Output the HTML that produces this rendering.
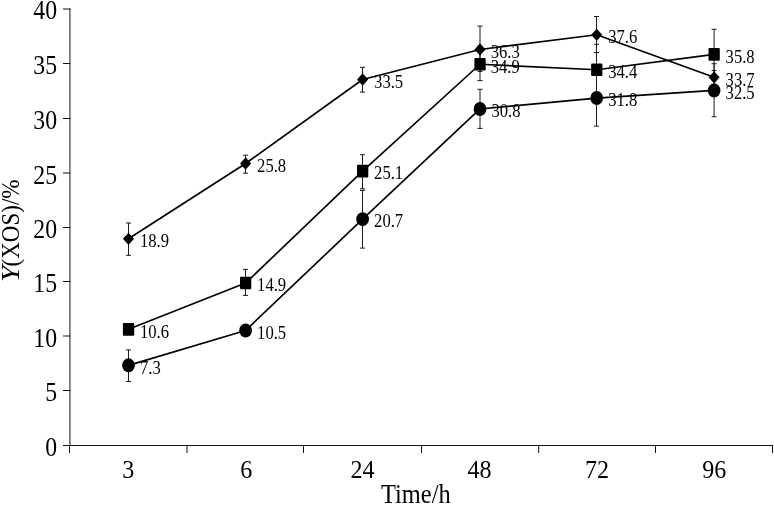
<!DOCTYPE html>
<html><head><meta charset="utf-8"><title>chart</title>
<style>
html,body{margin:0;padding:0;background:#fff;}
body{width:774px;height:505px;overflow:hidden;}
svg{display:block;will-change:transform;opacity:0.999;font-family:"Liberation Serif",serif;fill:#000;}
.ax{font-size:27px;}
.lb{font-size:19px;}
.tt{font-size:27px;}
</style></head><body>
<svg width="774" height="505" viewBox="0 0 774 505">
<rect width="774" height="505" fill="#fff"/>
<g stroke="#111" stroke-width="1" fill="none">
<line x1="69.95" y1="8.5" x2="69.95" y2="445"/>
<line x1="63" y1="445.5" x2="773" y2="445.5"/>
<line x1="63" y1="390.50" x2="70.4" y2="390.50"/>
<line x1="63" y1="336.00" x2="70.4" y2="336.00"/>
<line x1="63" y1="281.50" x2="70.4" y2="281.50"/>
<line x1="63" y1="227.50" x2="70.4" y2="227.50"/>
<line x1="63" y1="173.00" x2="70.4" y2="173.00"/>
<line x1="63" y1="118.50" x2="70.4" y2="118.50"/>
<line x1="63" y1="63.50" x2="70.4" y2="63.50"/>
<line x1="63" y1="9.00" x2="70.4" y2="9.00"/>
<line x1="69.50" y1="445" x2="69.50" y2="453"/>
<line x1="187.00" y1="445" x2="187.00" y2="453"/>
<line x1="303.50" y1="445" x2="303.50" y2="453"/>
<line x1="421.50" y1="445" x2="421.50" y2="453"/>
<line x1="538.70" y1="445" x2="538.70" y2="453"/>
<line x1="655.50" y1="445" x2="655.50" y2="453"/>
<line x1="772.50" y1="445" x2="772.50" y2="453"/>
</g>
<text class="ax" style="font-size:26.4px" transform="translate(57.1,456.45) scale(0.9,1)" text-anchor="end">0</text>
<text class="ax" style="font-size:26.4px" transform="translate(57.1,401.36) scale(0.9,1)" text-anchor="end">5</text>
<text class="ax" style="font-size:26.4px" transform="translate(57.1,346.77) scale(0.9,1)" text-anchor="end">10</text>
<text class="ax" style="font-size:26.4px" transform="translate(57.1,292.19) scale(0.9,1)" text-anchor="end">15</text>
<text class="ax" style="font-size:26.4px" transform="translate(57.1,238.10) scale(0.9,1)" text-anchor="end">20</text>
<text class="ax" style="font-size:26.4px" transform="translate(57.1,183.51) scale(0.9,1)" text-anchor="end">25</text>
<text class="ax" style="font-size:26.4px" transform="translate(57.1,128.92) scale(0.9,1)" text-anchor="end">30</text>
<text class="ax" style="font-size:26.4px" transform="translate(57.1,73.84) scale(0.9,1)" text-anchor="end">35</text>
<text class="ax" style="font-size:26.4px" transform="translate(57.1,19.25) scale(0.9,1)" text-anchor="end">40</text>
<text class="ax" style="font-size:26px" transform="translate(128.20,478.4) scale(0.926,1)" text-anchor="middle">3</text>
<text class="ax" style="font-size:26px" transform="translate(246.20,478.4) scale(0.926,1)" text-anchor="middle">6</text>
<text class="ax" style="font-size:26px" transform="translate(362.50,478.4) scale(0.926,1)" text-anchor="middle">24</text>
<text class="ax" style="font-size:26px" transform="translate(479.45,478.4) scale(0.926,1)" text-anchor="middle">48</text>
<text class="ax" style="font-size:26px" transform="translate(597.10,478.4) scale(0.926,1)" text-anchor="middle">72</text>
<text class="ax" style="font-size:26px" transform="translate(714.30,478.4) scale(0.926,1)" text-anchor="middle">96</text>
<text class="tt" transform="translate(415.8,502.6) scale(0.905,1)" text-anchor="middle">Time/h</text>
<text class="tt" style="font-size:26px;font-style:italic" transform="translate(19.0,282.0) rotate(-90) scale(1.13,1)">Y</text>
<text class="tt" style="font-size:26px" transform="translate(19.0,266.5) rotate(-90) scale(0.886,1)">(XOS)/%</text>
<g stroke="#1a1a1a" stroke-width="1" fill="none">
<path d="M128.50 223.0V255.3M126.00 223.0h5M126.00 255.3h5"/>
<path d="M245.50 155.2V173.2M243.00 155.2h5M243.00 173.2h5"/>
<path d="M362.50 67.3V92.1M360.00 67.3h5M360.00 92.1h5"/>
<path d="M480.00 26.1V71.4M477.50 26.1h5M477.50 71.4h5"/>
<path d="M596.50 16.5V52.6M594.00 16.5h5M594.00 52.6h5"/>
<path d="M714.10 70.5V84.7M711.60 70.5h5M711.60 84.7h5"/>
<path d="M128.50 327.0V332.0M126.00 327.0h5M126.00 332.0h5"/>
<path d="M245.50 269.4V295.4M243.00 269.4h5M243.00 295.4h5"/>
<path d="M362.50 154.7V188.8M360.00 154.7h5M360.00 188.8h5"/>
<path d="M480.00 48.5V80.6M477.50 48.5h5M477.50 80.6h5"/>
<path d="M596.50 44.3V95.7M594.00 44.3h5M594.00 95.7h5"/>
<path d="M714.10 29.3V80.0M711.60 29.3h5M711.60 80.0h5"/>
<path d="M128.50 349.9V381.5M126.00 349.9h5M126.00 381.5h5"/>
<path d="M245.50 328.0V333.0M243.00 328.0h5M243.00 333.0h5"/>
<path d="M362.50 190.4V248.1M360.00 190.4h5M360.00 248.1h5"/>
<path d="M480.00 89.3V128.4M477.50 89.3h5M477.50 128.4h5"/>
<path d="M596.50 70.7V126.1M594.00 70.7h5M594.00 126.1h5"/>
<path d="M714.10 63.7V116.7M711.60 63.7h5M711.60 116.7h5"/>
</g>
<polyline points="128.50,238.80 245.60,163.52 362.60,79.51 480.00,49.47 596.70,34.78 714.10,77.33" fill="none" stroke="#000" stroke-width="1.65" stroke-linejoin="round"/>
<polyline points="128.50,329.35 245.60,283.04 362.60,171.16 480.00,64.24 596.70,69.70 714.10,54.42" fill="none" stroke="#000" stroke-width="1.65" stroke-linejoin="round"/>
<polyline points="128.50,365.36 245.60,330.44 362.60,219.16 480.00,108.97 596.70,98.06 714.10,90.43" fill="none" stroke="#000" stroke-width="1.65" stroke-linejoin="round"/>
<path d="M128.50 232.65l5.55 6.15l-5.55 6.15l-5.55 -6.15z"/>
<path d="M245.60 157.37l5.55 6.15l-5.55 6.15l-5.55 -6.15z"/>
<path d="M362.60 73.36l5.55 6.15l-5.55 6.15l-5.55 -6.15z"/>
<path d="M480.00 43.32l5.55 6.15l-5.55 6.15l-5.55 -6.15z"/>
<path d="M596.70 28.63l5.55 6.15l-5.55 6.15l-5.55 -6.15z"/>
<path d="M714.10 71.18l5.55 6.15l-5.55 6.15l-5.55 -6.15z"/>
<rect x="122.90" y="323.05" width="11.3" height="12.6" rx="1"/>
<rect x="240.00" y="276.74" width="11.3" height="12.6" rx="1"/>
<rect x="357.00" y="164.86" width="11.3" height="12.6" rx="1"/>
<rect x="474.40" y="57.94" width="11.3" height="12.6" rx="1"/>
<rect x="591.10" y="63.40" width="11.3" height="12.6" rx="1"/>
<rect x="708.50" y="48.12" width="11.3" height="12.6" rx="1"/>
<ellipse cx="128.50" cy="365.36" rx="6.35" ry="7"/>
<ellipse cx="245.60" cy="330.44" rx="6.35" ry="7"/>
<ellipse cx="362.60" cy="219.16" rx="6.35" ry="7"/>
<ellipse cx="480.00" cy="108.97" rx="6.35" ry="7"/>
<ellipse cx="596.70" cy="98.06" rx="6.35" ry="7"/>
<ellipse cx="714.10" cy="90.43" rx="6.35" ry="7"/>
<text class="lb" transform="translate(140.00,247.00) scale(0.875,1)">18.9</text>
<text class="lb" transform="translate(257.10,171.72) scale(0.875,1)">25.8</text>
<text class="lb" transform="translate(374.10,87.71) scale(0.875,1)">33.5</text>
<text class="lb" transform="translate(490.70,57.77) scale(0.875,1)">36.3</text>
<text class="lb" transform="translate(608.20,42.98) scale(0.875,1)">37.6</text>
<text class="lb" transform="translate(725.60,85.53) scale(0.875,1)">33.7</text>
<text class="lb" transform="translate(140.00,337.55) scale(0.875,1)">10.6</text>
<text class="lb" transform="translate(257.10,291.24) scale(0.875,1)">14.9</text>
<text class="lb" transform="translate(374.10,179.36) scale(0.875,1)">25.1</text>
<text class="lb" transform="translate(490.70,73.04) scale(0.875,1)">34.9</text>
<text class="lb" transform="translate(608.20,77.90) scale(0.875,1)">34.4</text>
<text class="lb" transform="translate(725.60,62.62) scale(0.875,1)">35.8</text>
<text class="lb" transform="translate(140.00,373.56) scale(0.875,1)">7.3</text>
<text class="lb" transform="translate(257.10,338.64) scale(0.875,1)">10.5</text>
<text class="lb" transform="translate(374.10,227.36) scale(0.875,1)">20.7</text>
<text class="lb" transform="translate(491.50,117.17) scale(0.875,1)">30.8</text>
<text class="lb" transform="translate(608.20,106.26) scale(0.875,1)">31.8</text>
<text class="lb" transform="translate(725.60,98.63) scale(0.875,1)">32.5</text>
</svg></body></html>
